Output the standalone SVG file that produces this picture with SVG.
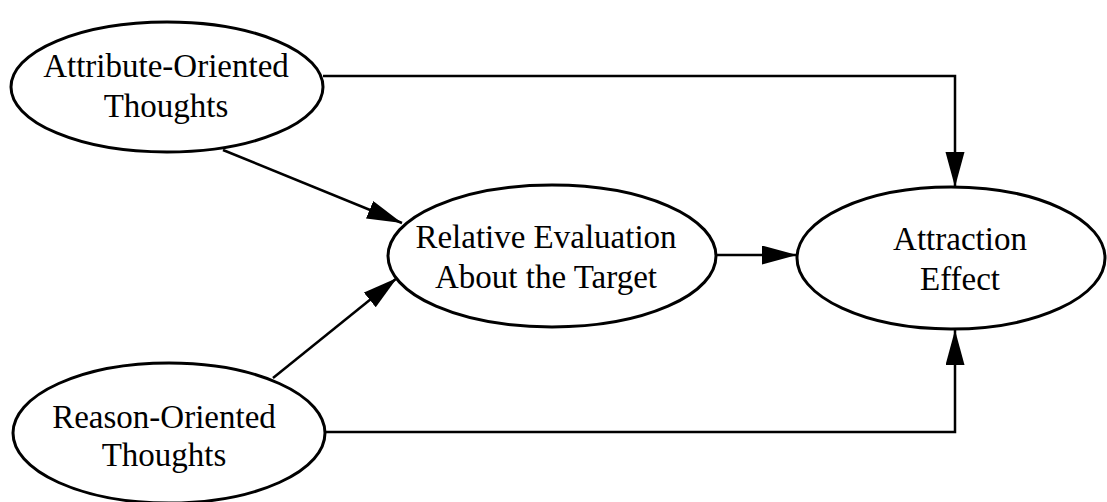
<svg xmlns="http://www.w3.org/2000/svg" width="1107" height="502" viewBox="0 0 1107 502">
<style>
.node ellipse{fill:#fff;stroke:#000;stroke-width:3}
.node text{font-family:"Liberation Serif","Times New Roman",serif;font-size:33px;fill:#000;text-anchor:middle}
.conn path{fill:none;stroke:#000;stroke-width:2.5;marker-end:url(#arr)}
</style>
<defs>
<marker id="arr" markerUnits="userSpaceOnUse" markerWidth="36" markerHeight="20" refX="35" refY="9.5" orient="auto">
<path d="M0,0 L35,9.5 L0,19 z" fill="#000"/>
</marker>
</defs>
<rect width="1107" height="502" fill="#fff"/>
<g id="connectors" class="conn">
<path d="M323,76 H955 V187"/>
<path d="M325,432 H955 V330"/>
<path d="M223,150 L402,223"/>
<path d="M273,378 L397,278"/>
<path d="M713,255 L797,255"/>
</g>
<g id="attribute" class="node">
<ellipse cx="167" cy="87" rx="156" ry="65"/>
<text x="166" y="77">Attribute-Oriented</text>
<text x="166" y="117">Thoughts</text>
</g>
<g id="relative" class="node">
<ellipse cx="552" cy="256" rx="164" ry="71"/>
<text x="546" y="248">Relative Evaluation</text>
<text x="546" y="288">About the Target</text>
</g>
<g id="attraction" class="node">
<ellipse cx="951" cy="258" rx="154" ry="71"/>
<text x="960" y="250">Attraction</text>
<text x="960" y="290">Effect</text>
</g>
<g id="reason" class="node">
<ellipse cx="169" cy="433" rx="156" ry="70"/>
<text x="164" y="428">Reason-Oriented</text>
<text x="164" y="466">Thoughts</text>
</g>
</svg>
